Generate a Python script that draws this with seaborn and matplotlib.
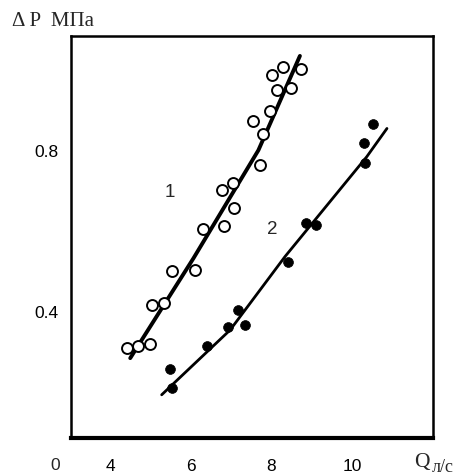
import numpy as np
import pandas as pd
import matplotlib
matplotlib.use('Agg')
import matplotlib.pyplot as plt
import seaborn as sns

# series 1 (open circles)
q1 = [4.42, 4.69, 4.99, 5.04, 5.34, 5.54, 6.11, 6.31, 6.83, 7.08, 6.78,
      7.05, 7.72, 7.55, 7.80, 7.97, 8.14, 8.49, 8.02, 8.29, 8.74]
dp1 = [0.311, 0.316, 0.321, 0.418, 0.423, 0.502, 0.505, 0.606, 0.614, 0.659, 0.703,
       0.721, 0.765, 0.874, 0.842, 0.899, 0.951, 0.956, 0.989, 1.008, 1.003]

# series 2 (filled dots)
q2 = [5.49, 5.54, 6.41, 6.93, 7.18, 7.35, 8.42, 8.86, 9.11, 10.33, 10.30, 10.53]
dp2 = [0.259, 0.212, 0.316, 0.363, 0.405, 0.368, 0.525, 0.621, 0.616, 0.770, 0.820, 0.867]

# curves
line1_q = [4.50, 6.07, 7.68, 8.71]
line1_dp = [0.286, 0.534, 0.802, 1.036]
line2_q = [5.28, 6.98, 8.34, 10.37, 10.87]
line2_dp = [0.195, 0.356, 0.538, 0.786, 0.856]

xticks = [4, 6, 8, 10]
yticks = [0.4, 0.8]
ytick_labels = ['0.4', '0.8']

sns.set_style('white')
plt.rcParams['font.family'] = ['Liberation Sans', 'DejaVu Sans']
serif = ['Liberation Serif', 'DejaVu Serif']

fig = plt.figure(figsize=(4.67, 4.76), dpi=100, facecolor='white')
ax = fig.add_axes([0.152, 0.080, 0.775, 0.844])

df1 = pd.DataFrame({'q': q1, 'dp': dp1})
df2 = pd.DataFrame({'q': q2, 'dp': dp2})
l1 = pd.DataFrame({'q': line1_q, 'dp': line1_dp})
l2 = pd.DataFrame({'q': line2_q, 'dp': line2_dp})

sns.lineplot(data=l1, x='q', y='dp', color='black', lw=2.8, sort=False, ax=ax)
sns.lineplot(data=l2, x='q', y='dp', color='black', lw=2.0, sort=False, ax=ax)
sns.scatterplot(data=df1, x='q', y='dp', marker='o', s=62, facecolor='white',
                edgecolor='black', linewidth=1.4, ax=ax, zorder=3)
sns.scatterplot(data=df2, x='q', y='dp', marker='o', s=50, color='black',
                edgecolor='black', linewidth=0.5, ax=ax, zorder=3)

ax.set_xlim(3.03, 12.01)
ax.set_ylim(0.088, 1.085)
ax.set_xticks(xticks)
ax.set_xticklabels([str(t) for t in xticks])
ax.set_yticks(yticks)
ax.set_yticklabels(ytick_labels)
ax.set_xlabel('')
ax.set_ylabel('')

ax.tick_params(axis='x', direction='in', length=8, width=1.6, pad=15, labelsize=12.5, colors='black')
ax.tick_params(axis='y', direction='in', length=7, width=1.2, pad=9, labelsize=12.5, colors='black')
for side in ['left', 'top', 'right']:
    ax.spines[side].set_linewidth(1.8)
    ax.spines[side].set_color('black')
ax.spines['bottom'].set_linewidth(3.0)
ax.spines['bottom'].set_color('black')

ax.text(5.49, 0.696, '1', fontsize=13.5, ha='center', va='center')
ax.text(8.02, 0.606, '2', fontsize=13.5, ha='center', va='center')

fig.text(55 / 467, 1 - 465 / 476, '0', fontsize=12.5, ha='center', va='center')
fig.text(12 / 467, 1 - 22 / 476, '\u0394 P  \u041c\u041f\u0430', fontsize=15,
         family=serif, ha='left', va='center')
fig.text(414 / 467, 1 - 463 / 476, 'Q', fontsize=15.5,
         family=serif, ha='left', va='center')
fig.text(432 / 467, 1 - 467 / 476, '\u043b/\u0441', fontsize=13,
         family=serif, ha='left', va='center')

plt.savefig('out.png', dpi=100, facecolor='white')
